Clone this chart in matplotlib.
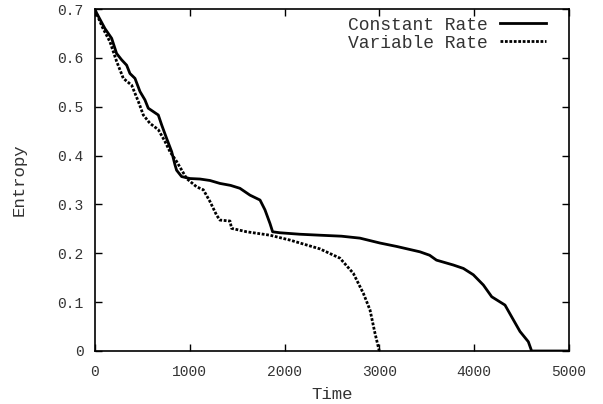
import matplotlib
matplotlib.use("Agg")
import matplotlib.pyplot as plt

# values
const_t = [0, 105, 176, 228, 281, 334, 369, 422, 475, 527, 562, 615, 668, 703, 756,
           809, 844, 861, 914, 1002, 1108, 1213, 1318, 1430, 1529, 1635, 1741, 1793,
           1846, 1874, 1951, 2160, 2373, 2600, 2795, 3006, 3182, 3428, 3530, 3602, 3780,
           3886, 3991, 4097, 4185, 4325, 4395, 4483, 4571, 4606, 4800, 5000]
const_e = [0.698, 0.660, 0.640, 0.609, 0.596, 0.585, 0.568, 0.558, 0.531, 0.514, 0.497,
           0.490, 0.483, 0.463, 0.435, 0.408, 0.381, 0.370, 0.357, 0.353, 0.352, 0.349,
           0.343, 0.339, 0.333, 0.319, 0.309, 0.289, 0.261, 0.244, 0.242, 0.239, 0.237,
           0.235, 0.231, 0.221, 0.214, 0.203, 0.196, 0.186, 0.176, 0.169, 0.156, 0.135,
           0.111, 0.094, 0.070, 0.040, 0.019, 0.0, 0.0, 0.0]

var_t = [0, 80, 158, 228, 299, 387, 457, 510, 580, 668, 738, 791, 861, 967, 1072, 1143,
         1213, 1283, 1318, 1424, 1441, 1600, 1846, 2057, 2373, 2584, 2725, 2831, 2901,
         2954, 2999]
var_e = [0.698, 0.662, 0.633, 0.593, 0.558, 0.544, 0.511, 0.483, 0.466, 0.453, 0.429,
         0.408, 0.388, 0.353, 0.336, 0.330, 0.306, 0.278, 0.268, 0.266, 0.251, 0.244,
         0.237, 0.227, 0.209, 0.190, 0.159, 0.118, 0.084, 0.036, 0.0]

x_ticks = [0, 1000, 2000, 3000, 4000, 5000]
y_ticks = [0, 0.1, 0.2, 0.3, 0.4, 0.5, 0.6, 0.7]
y_tick_labels = ["0", "0.1", "0.2", "0.3", "0.4", "0.5", "0.6", "0.7"]

plt.rcParams["font.family"] = ["Liberation Mono", "DejaVu Sans Mono"]
txt = "#333333"

fig = plt.figure(figsize=(6.03, 4.04), dpi=100)
ax = fig.add_axes([0.1575, 0.1312, 0.7861, 0.8465])

ax.plot(const_t, const_e, color="black", lw=2.0, label="Constant Rate")
ax.plot(var_t, var_e, color="black", lw=2.0, linestyle=(0, (1.0, 0.6)),
        label="Variable Rate")

ax.set_xlim(0, 5000)
ax.set_ylim(0, 0.7)
ax.set_xticks(x_ticks)
ax.set_xticklabels([str(v) for v in x_ticks])
ax.set_yticks(y_ticks)
ax.set_yticklabels(y_tick_labels)
ax.tick_params(direction="in", length=5, width=1, top=True, right=True,
               labelsize=10.5, labelcolor=txt)
ax.tick_params(axis="x", pad=10)
ax.tick_params(axis="y", pad=8)
for s in ax.spines.values():
    s.set_linewidth(1.2)

ax.set_xlabel("Time", fontsize=12.5, color=txt, labelpad=6)
ax.set_ylabel("Entropy", fontsize=12.5, color=txt, labelpad=22)

ax.legend(loc="upper right", bbox_to_anchor=(0.985, 1.025), frameon=False,
          markerfirst=False, fontsize=13, handlelength=2.55, handletextpad=0.66,
          labelspacing=0.05, labelcolor=txt)

fig.savefig("out.png", dpi=100)
